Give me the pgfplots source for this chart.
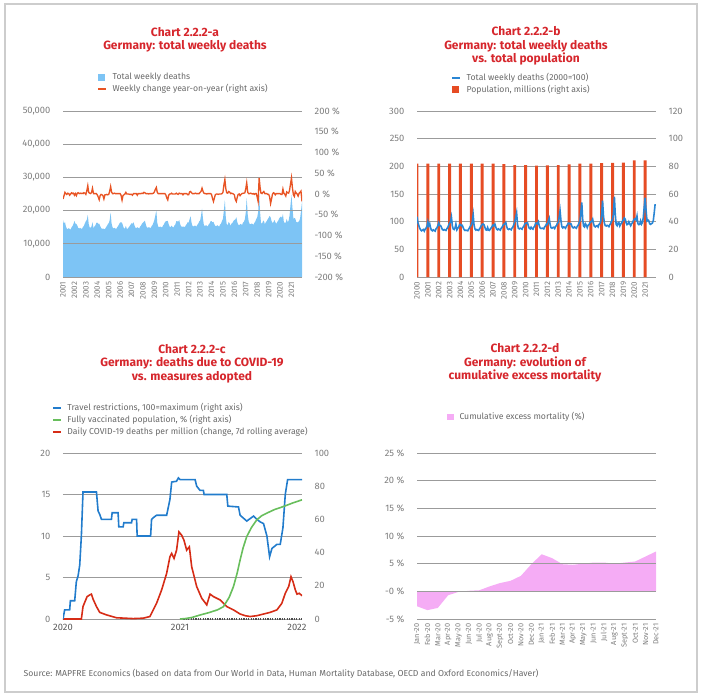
\documentclass[border=0pt]{standalone}
\usepackage{fontspec}
\setmainfont{Fira Sans}
\usepackage{pgfplots}
\usepackage{pgfplotstable}
\pgfplotsset{compat=1.18}

\definecolor{ttl}{RGB}{214,38,44}
\definecolor{tickc}{RGB}{125,125,125}
\definecolor{legc}{RGB}{105,105,105}
\definecolor{gridc}{RGB}{155,155,155}
\definecolor{framec}{RGB}{205,205,205}
\definecolor{areab}{RGB}{125,196,245}
\definecolor{gridb}{RGB}{62,140,210}
\definecolor{orng}{RGB}{232,84,36}
\definecolor{linb}{RGB}{42,134,212}
\definecolor{barr}{RGB}{230,76,36}
\definecolor{cblue}{RGB}{34,124,204}
\definecolor{cgreen}{RGB}{104,190,92}
\definecolor{cred}{RGB}{214,44,22}
\definecolor{pinkc}{RGB}{245,172,245}

\newcommand{\tk}{\fontsize{7}{8}\selectfont}
\newcommand{\tks}{\fontsize{6}{7}\selectfont}
\newcommand{\tkx}{\fontsize{5.5}{6.5}\selectfont}
\newcommand{\legf}{\fontsize{6.5}{7.5}\selectfont}
\newcommand{\ttlf}{\fontsize{9}{10}\selectfont\bfseries}

\pgfplotsset{
  /pgf/number format/assume math mode=true,
  /pgf/number format/1000 sep={},
  panel/.style={scale only axis, width=179.25pt, height=124.5pt, anchor=south west,
    axis line style={draw=none}, major tick length=0pt,
    ticklabel style={font=\tk, text=tickc},
    major grid style={draw=gridc, line width=0.6pt},
    legend cell align=left,
    legend style={draw=none, fill=none, font=\legf, text=legc, inner sep=0pt,
      row sep=0pt, nodes={inner sep=0.9pt},
      /tikz/every odd column/.append style={column sep=3pt}}},
  sqleg/.style={legend image code/.code={\fill[##1,draw=none] (0pt,-2.6pt) rectangle (5.2pt,2.6pt);}},
  lnleg/.style={legend image code/.code={\draw[##1] (0pt,0pt) -- (6pt,0pt);}},
  leftlab/.style={yticklabel style={xshift=-6pt}},
  rightlab/.style={yticklabel style={xshift=6pt}},
  yearlab/.style={xticklabel style={rotate=90, anchor=east, font=\tks}},
}

% weekly deaths (thousands, monthly sampling) and year-on-year change (%)
\pgfplotstableread{
x d c
2000.00 18.8 nan
2000.08 17.0 nan
2000.17 16.0 nan
2000.25 15.2 nan
2000.33 14.7 nan
2000.42 14.4 nan
2000.50 14.6 nan
2000.58 14.8 nan
2000.67 14.3 nan
2000.75 14.9 nan
2000.83 15.2 nan
2000.92 15.8 nan
2001.00 17.2 -12
2001.08 16.0 -5
2001.17 16.6 4
2001.25 15.3 1
2001.33 14.6 -1
2001.42 14.4 2
2001.50 14.7 1
2001.58 14.5 -3
2001.67 14.3 0
2001.75 15.0 3
2001.83 15.3 1
2001.92 16.0 2
2002.00 16.9 -3
2002.08 16.1 1
2002.17 16.0 -4
2002.25 15.5 2
2002.33 14.8 3
2002.42 14.6 1
2002.50 14.8 2
2002.58 14.6 1
2002.67 14.5 2
2002.75 15.1 1
2002.83 15.4 3
2002.92 16.2 2
2003.00 16.8 -1
2003.08 17.2 7
2003.17 18.7 20
2003.25 16.0 4
2003.33 15.0 2
2003.42 14.8 1
2003.50 15.3 4
2003.58 16.5 14
2003.67 14.7 1
2003.75 15.2 1
2003.83 15.5 1
2003.92 16.3 1
2004.00 16.4 -2
2004.08 16.0 -7
2004.17 16.1 -14
2004.25 15.4 -4
2004.33 14.8 -1
2004.42 14.5 -2
2004.50 14.6 -4
2004.58 14.5 -12
2004.67 14.4 -2
2004.75 14.9 -2
2004.83 15.3 -1
2004.92 15.9 -2
2005.00 16.2 -1
2005.08 17.0 6
2005.17 19.4 18
2005.25 16.2 5
2005.33 15.0 1
2005.42 14.6 1
2005.50 14.8 2
2005.58 14.6 1
2005.67 14.5 1
2005.75 15.0 1
2005.83 15.4 1
2005.92 16.0 1
2006.00 16.4 1
2006.08 16.5 -3
2006.17 16.3 -15
2006.25 15.5 -4
2006.33 14.7 -2
2006.42 14.6 0
2006.50 15.4 4
2006.58 14.6 0
2006.67 14.5 0
2006.75 15.0 0
2006.83 15.3 -1
2006.92 15.8 -1
2007.00 16.2 -1
2007.08 16.0 -3
2007.17 16.5 1
2007.25 15.6 1
2007.33 14.9 1
2007.42 14.7 1
2007.50 15.0 -3
2007.58 14.8 1
2007.67 14.6 1
2007.75 15.2 1
2007.83 15.5 1
2007.92 16.1 2
2008.00 16.4 1
2008.08 16.6 4
2008.17 17.0 3
2008.25 15.8 1
2008.33 15.0 1
2008.42 14.8 1
2008.50 15.0 0
2008.58 14.9 1
2008.67 14.7 1
2008.75 15.3 1
2008.83 15.6 1
2008.92 16.4 2
2009.00 17.2 5
2009.08 18.5 11
2009.17 20.0 16
2009.25 16.4 4
2009.33 15.2 1
2009.42 15.0 1
2009.50 15.2 1
2009.58 15.1 1
2009.67 14.9 1
2009.75 15.5 1
2009.83 15.8 1
2009.92 16.5 1
2010.00 16.8 -2
2010.08 16.8 -9
2010.17 16.9 -14
2010.25 15.9 -3
2010.33 15.2 0
2010.42 15.0 0
2010.50 15.5 2
2010.58 15.1 0
2010.67 14.9 0
2010.75 15.5 0
2010.83 15.8 0
2010.92 16.8 2
2011.00 16.8 0
2011.08 16.6 -1
2011.17 17.2 2
2011.25 16.0 1
2011.33 15.3 1
2011.42 15.1 1
2011.50 15.2 -2
2011.58 15.2 1
2011.67 15.0 1
2011.75 15.6 1
2011.83 15.9 1
2011.92 16.5 -2
2012.00 16.4 -2
2012.08 17.4 5
2012.17 18.3 6
2012.25 16.4 3
2012.33 15.4 1
2012.42 15.2 1
2012.50 15.4 1
2012.58 15.5 2
2012.67 15.1 1
2012.75 15.7 1
2012.83 16.0 1
2012.92 16.7 1
2013.00 17.0 4
2013.08 18.4 6
2013.17 20.6 14
2013.25 17.6 7
2013.33 15.7 2
2013.42 15.3 1
2013.50 15.6 1
2013.58 15.5 0
2013.67 15.2 1
2013.75 15.8 1
2013.83 16.1 1
2013.92 16.8 1
2014.00 16.8 -1
2014.08 16.5 -10
2014.17 16.6 -18
2014.25 15.9 -10
2014.33 15.4 -2
2014.42 15.3 0
2014.50 15.6 0
2014.58 15.4 -1
2014.67 15.2 0
2014.75 15.8 0
2014.83 16.1 0
2014.92 16.9 1
2015.00 17.5 4
2015.08 20.0 21
2015.17 23.2 35
2015.25 18.0 13
2015.33 15.9 3
2015.42 15.6 2
2015.50 16.6 6
2015.58 16.2 5
2015.67 15.4 1
2015.75 16.1 2
2015.83 16.3 1
2015.92 16.9 0
2016.00 17.2 -2
2016.08 17.3 -13
2016.17 18.0 -18
2016.25 16.6 -8
2016.33 15.8 -1
2016.42 15.6 0
2016.50 15.9 -4
2016.58 16.0 -1
2016.67 15.6 1
2016.75 16.4 2
2016.83 16.6 2
2016.92 17.4 3
2017.00 19.5 13
2017.08 23.8 27
2017.17 18.8 4
2017.25 16.8 1
2017.33 16.0 1
2017.42 15.9 2
2017.50 16.1 1
2017.58 16.0 0
2017.67 15.7 1
2017.75 16.3 -1
2017.83 16.7 1
2017.92 17.5 1
2018.00 18.0 -8
2018.08 19.5 -18
2018.17 25.0 39
2018.25 19.5 16
2018.33 16.4 2
2018.42 16.0 1
2018.50 16.8 4
2018.58 17.0 6
2018.67 15.9 1
2018.75 16.5 1
2018.83 16.8 1
2018.92 17.4 -1
2019.00 17.8 -1
2019.08 18.4 -6
2019.17 18.0 -23
2019.25 16.9 -13
2019.33 16.3 -1
2019.42 16.5 3
2019.50 17.2 2
2019.58 16.6 -2
2019.67 16.0 1
2019.75 16.6 1
2019.83 16.9 1
2019.92 17.6 1
2020.00 18.0 1
2020.08 18.2 -1
2020.17 17.8 -1
2020.25 19.0 12
2020.33 16.6 2
2020.42 16.3 -1
2020.50 16.4 -5
2020.58 17.5 5
2020.67 16.5 3
2020.75 17.0 2
2020.83 18.5 9
2020.92 22.0 25
2021.00 24.7 39
2021.08 21.0 15
2021.17 17.5 -2
2021.25 17.8 -6
2021.33 17.6 6
2021.42 16.6 2
2021.50 16.4 0
2021.58 16.6 -5
2021.67 16.8 2
2021.75 17.6 4
2021.83 19.8 7
2021.92 22.7 -18
}\deaths

\begin{document}
\begin{tikzpicture}[x=0.75pt,y=-0.75pt]
\path[use as bounding box] (0,0) rectangle (703,699);
\draw[framec, line width=1.5pt] (5,4) rectangle (697,692);

\node[ttl, font=\ttlf, align=center] at (185,39.5) {Chart 2.2.2-a\\Germany: total weekly deaths};
\node[ttl, font=\ttlf, align=center] at (526,46) {Chart 2.2.2-b\\Germany: total weekly deaths\\vs. total population};
\node[ttl, font=\ttlf, align=center] at (192,363.5) {Chart 2.2.2-c\\Germany: deaths due to COVID-19\\vs. measures adopted};
\node[ttl, font=\ttlf, align=center] at (525,363) {Chart 2.2.2-d\\Germany: evolution of\\cumulative excess mortality};

\node[legc, font=\legf, anchor=west] at (19,674) {Source: MAPFRE Economics (based on data from Our World in Data, Human Mortality Database, OECD and Oxford Economics/Haver)};

% ---------- Chart a ----------
\begin{axis}[panel, leftlab, yearlab, at={(47.25pt,-207.75pt)},
  xmin=2001, xmax=2021.92, ymin=0, ymax=50,
  xtick={2001,...,2021},
  ytick={0,10,...,50}, yticklabels={0,{10,000},{20,000},{30,000},{40,000},{50,000}},
  ymajorgrids, axis on top,
  extra y ticks={10}, extra y tick labels={},
  extra y tick style={grid style={draw=gridb, line width=1pt}},
  legend style={at={(0.143,1.235)}, anchor=north west}]
\addplot[fill=areab, draw=none, forget plot] table[x=x, y=d]{\deaths} \closedcycle;
\addlegendimage{sqleg, fill=areab}
\addlegendentry{Total weekly deaths}
\addlegendimage{lnleg, orng, line width=1.5pt}
\addlegendentry{Weekly change year-on-year (right axis)}
\end{axis}
\begin{axis}[panel, rightlab, at={(47.25pt,-207.75pt)},
  xmin=2001, xmax=2021.92, ymin=-200, ymax=200,
  axis y line*=right, axis x line=none,
  ytick={-200,-150,...,200},
  yticklabels={{-200 \%},{-150 \%},{-100 \%},{-50 \%},{0 \%},{50 \%},{100 \%},{150 \%},{200 \%}}]
\addplot[orng, line width=1pt] table[x=x, y=c]{\deaths};
\end{axis}

% ---------- Chart b ----------
\begin{axis}[panel, rightlab, yearlab, at={(312.75pt,-207.75pt)},
  xmin=2000, xmax=2022, ymin=0, ymax=120,
  axis y line*=right, xtick={2000,...,2021},
  ytick={0,20,...,120}, ymajorgrids,
  extra y ticks={0}, extra y tick labels={},
  extra y tick style={grid style={draw=black!70, line width=0.6pt}}]
\addplot[ybar, bar width=2.2pt, fill=barr, draw=none] coordinates {
(2000,82.0) (2001,82.0) (2002,82.0) (2003,82.0) (2004,82.0) (2005,82.0)
(2006,82.0) (2007,82.0) (2008,81.6) (2009,80.8) (2010,80.8) (2011,80.6)
(2012,80.7) (2013,80.8) (2014,81.5) (2015,81.9) (2016,82.0) (2017,82.3)
(2018,82.5) (2019,82.6) (2020,84.3) (2021,84.3)};
\end{axis}
\begin{axis}[panel, leftlab, at={(312.75pt,-207.75pt)},
  xmin=2000, xmax=2022, ymin=0, ymax=300,
  axis y line*=left, axis x line=none,
  ytick={0,50,...,300},
  legend style={at={(0.143,1.235)}, anchor=north west}]
\addplot[linb, line width=1.2pt, forget plot] table[x=x, y expr=\thisrow{d}*5.8]{\deaths};
\addlegendimage{lnleg, linb, line width=1.5pt}
\addlegendentry{Total weekly deaths (2000=100)}
\addlegendimage{sqleg, fill=barr}
\addlegendentry{Population, millions (right axis)}
\end{axis}

% ---------- Chart c ----------
\begin{axis}[panel, leftlab, at={(47.25pt,-464.25pt)},
  xmin=2020, xmax=2022.043, ymin=0, ymax=20,
  xtick={2020,2021,2022}, xticklabel style={text=black!65},
  ytick={0,5,...,20}, ymajorgrids]
\addplot[cred, line width=1.2pt] coordinates {
(2020.000,0) (2020.157,0) (2020.171,1.5) (2020.206,2.7) (2020.229,2.9)
(2020.243,3.0) (2020.257,2.4) (2020.286,1.5) (2020.314,0.8) (2020.371,0.5)
(2020.457,0.15) (2020.600,0.05) (2020.686,0.1) (2020.743,0.3) (2020.800,1.9)
(2020.843,3.5) (2020.886,5.5) (2020.914,7.5) (2020.929,7.9) (2020.949,7.3)
(2020.971,8.3) (2020.991,10.5) (2021.014,10.1) (2021.034,9.5) (2021.057,8.3)
(2021.080,8.7) (2021.100,6.3) (2021.143,3.9) (2021.186,2.5) (2021.229,1.7)
(2021.257,3.0) (2021.286,2.7) (2021.343,2.3) (2021.400,1.5) (2021.457,1.1)
(2021.514,0.6) (2021.557,0.4) (2021.600,0.3) (2021.657,0.4) (2021.714,0.6)
(2021.771,0.8) (2021.829,1.1) (2021.871,1.9) (2021.900,3.1) (2021.929,3.9)
(2021.949,5.1) (2021.966,4.5) (2021.986,3.5) (2022.000,3.0) (2022.020,3.1)
(2022.043,2.8)};
\addplot[black!70, densely dotted, line width=0.8pt] coordinates {(2021.03,0) (2022.04,0)};
\end{axis}
\begin{axis}[panel, rightlab, at={(47.25pt,-464.25pt)},
  xmin=2020, xmax=2022.043, ymin=0, ymax=100,
  axis y line*=right, axis x line=none,
  ytick={0,20,...,100},
  legend style={at={(-0.046,1.307)}, anchor=north west}]
\addplot[cblue, line width=1.2pt, forget plot] coordinates {
(2020.000,0) (2020.014,5.5) (2020.057,5.5) (2020.063,11) (2020.100,11)
(2020.114,22.5) (2020.129,26) (2020.143,32.5) (2020.157,50) (2020.171,76.5)
(2020.286,76.5) (2020.300,65) (2020.314,63) (2020.329,60) (2020.414,60)
(2020.420,64) (2020.471,64) (2020.477,55.5) (2020.514,55.5) (2020.520,58)
(2020.586,58) (2020.591,60) (2020.629,60) (2020.634,50) (2020.749,50)
(2020.757,60) (2020.771,61) (2020.800,62.5) (2020.886,62.5) (2020.914,72)
(2020.929,82.5) (2020.971,83) (2020.986,85) (2021.000,84) (2021.129,84)
(2021.143,80) (2021.171,77.5) (2021.200,77.5) (2021.206,75) (2021.400,75)
(2021.409,68) (2021.500,67.5) (2021.514,62.5) (2021.571,59) (2021.629,62)
(2021.657,60) (2021.686,58.5) (2021.714,57.5) (2021.743,50) (2021.766,37.5)
(2021.786,42.5) (2021.829,45) (2021.857,45) (2021.880,55) (2021.900,75)
(2021.920,84) (2022.043,84)};
\addplot[cgreen, line width=1.2pt, forget plot] coordinates {
(2021.000,0) (2021.05,0.3) (2021.10,0.9) (2021.171,2.4) (2021.25,3.9)
(2021.32,5.5) (2021.371,7.4) (2021.42,13) (2021.457,19.5) (2021.49,28)
(2021.514,35.6) (2021.54,43) (2021.571,49.7) (2021.61,55) (2021.657,59.8)
(2021.70,62.3) (2021.743,63.8) (2021.81,66) (2021.886,67.8) (2021.96,69.8)
(2022.043,71.8)};
\addlegendimage{lnleg, cblue, line width=1.5pt}
\addlegendentry{Travel restrictions, 100=maximum (right axis)}
\addlegendimage{lnleg, cgreen, line width=1.5pt}
\addlegendentry{Fully vaccinated population, \% (right axis)}
\addlegendimage{lnleg, cred, line width=1.5pt}
\addlegendentry{Daily COVID-19 deaths per million (change, 7d rolling average)}
\end{axis}

% ---------- Chart d ----------
\begin{axis}[panel, leftlab, at={(312.75pt,-464.25pt)},
  xmin=0, xmax=23, ymin=-5, ymax=25,
  xtick={0,...,23},
  xticklabels={Jan-20,Feb-20,Mar-20,Apr-20,May-20,Jun-20,Jul-20,Aug-20,Sept-20,Oct-20,Nov-20,Dec-20,
    Jan-21,Feb-21,Mar-21,Apr-21,May-21,Jun-21,Jul-21,Aug-21,Sept-21,Oct-21,Nov-21,Dec-21},
  xticklabel style={rotate=90, anchor=east, font=\tkx},
  ytick={-5,0,...,25},
  yticklabels={{-5 \%},{-0 \%},{5 \%},{10 \%},{15 \%},{20 \%},{25 \%}},
  ymajorgrids, axis on top,
  extra y ticks={-5}, extra y tick labels={},
  extra y tick style={grid style={draw=black!70, line width=0.6pt}},
  legend style={at={(0.126,1.217)}, anchor=west}]
\addplot[fill=pinkc, draw=none, forget plot] coordinates {
(0,-2.7) (1,-3.4) (2,-3.0) (3,-0.7) (4,-0.1) (5,0.1) (6,0.2) (7,0.9)
(8,1.5) (9,1.9) (10,2.8) (11,4.9) (12,6.7) (13,6.0) (14,4.9) (15,4.8)
(16,5.0) (17,5.2) (18,5.2) (19,5.0) (20,5.2) (21,5.4) (22,6.3) (23,7.2)} \closedcycle;
\addlegendimage{sqleg, fill=pinkc}
\addlegendentry{Cumulative excess mortality (\%)}
\end{axis}
\end{tikzpicture}
\end{document}
